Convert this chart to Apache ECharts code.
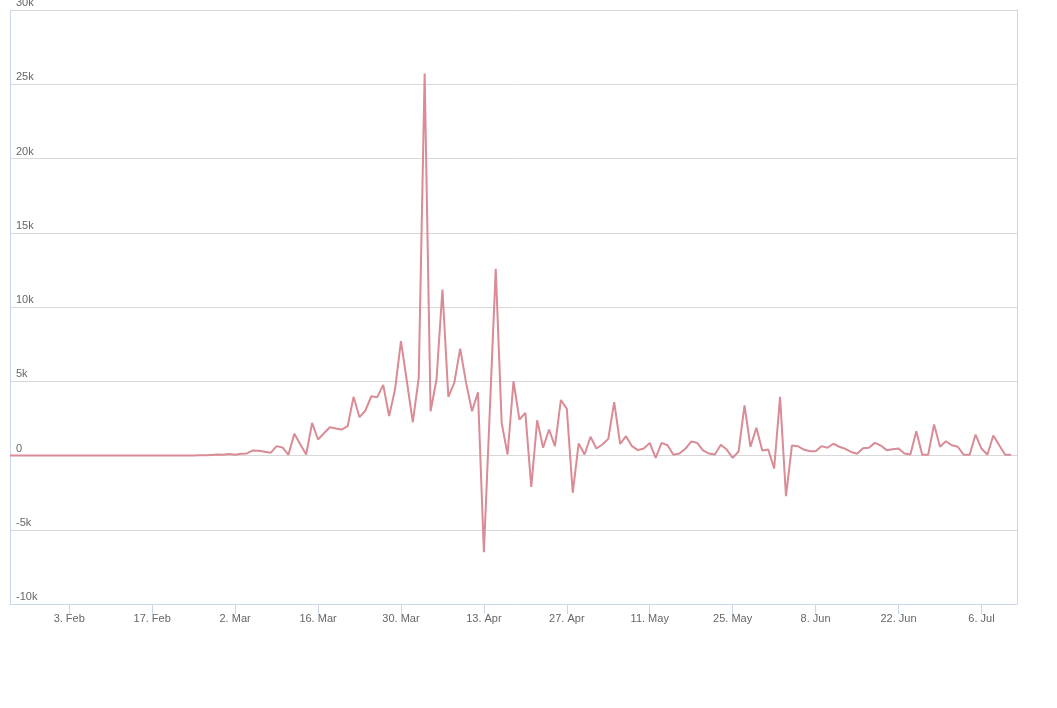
<!DOCTYPE html>
<html>
<head>
<meta charset="utf-8">
<script src="https://cdn.jsdelivr.net/npm/echarts@6/dist/echarts.min.js"></script>
<style>
html,body{margin:0;padding:0;background:#fff;}
#chart{width:1057px;height:708px;}
</style>
</head>
<body>
<div id="chart"></div>
<script>
// Daily values, starting 24 Jan 2020, one per day through 11 Jul 2020
const startDate = [2020, 0, 24];
const extraDays = 1; // axis runs one day beyond the last point
const monthNames = ['Jan','Feb','Mar','Apr','May','Jun','Jul','Aug','Sep','Oct','Nov','Dec'];

const janValues = [0,0,0,0,0,0,0,0];
const febValues = [0,0,0,0,0,0,0,0,0,0, 0,0,0,0,0,0,0,0,0,0, 0,0,0,0,10,20,40,60,50];
const marValues = [100,50,120,140,340,320,250,180,630,540,
                   50,1460,760,70,2200,1080,1500,1900,1820,1750,
                   1970,3950,2580,3030,3990,3930,4760,2650,4440,7700,5000];
const aprValues = [2240,5230,25720,2980,5100,11180,3950,4890,7200,4890,
                   2980,4260,-6510,3030,12570,2200,70,5000,2420,2870,
                   -2110,2380,520,1750,630,3740,3140,-2510,810,70];
const mayValues = [1260,470,740,1120,3590,790,1300,630,360,470,
                   850,-160,850,690,50,130,450,940,850,340,
                   130,70,720,400,-160,270,3370,590,1870,340,400];
const junValues = [-880,3950,-2740,670,630,400,290,290,630,520,
                   790,590,450,240,120,490,520,850,670,360,
                   420,470,130,70,1640,50,50,2090,590,960];
const julValues = [690,590,50,50,1410,470,50,1350,690,50,50];

const yTicks = { min: -10000, max: 30000, interval: 5000 };
const firstLabelIndex = 10; // 3. Feb
const labelStep = 14;

const values = [].concat(janValues, febValues, marValues, aprValues, mayValues, junValues, julValues);
const categories = [];
for (let i = 0; i < values.length + extraDays; i++) {
  const d = new Date(Date.UTC(startDate[0], startDate[1], startDate[2] + i));
  categories.push(d.getUTCDate() + '. ' + monthNames[d.getUTCMonth()]);
}
const showIdx = (i) => i >= firstLabelIndex && (i - firstLabelIndex) % labelStep === 0;

const chart = echarts.init(document.getElementById('chart'), null, {renderer: 'canvas'});
const axisColor = '#ccd6eb';
const textStyle = { color: '#666666', fontSize: 11, fontFamily: '"Liberation Sans", Arial, sans-serif' };
chart.setOption({
  animation: false,
  backgroundColor: '#ffffff',
  grid: { left: 10, right: 40, top: 10, bottom: 104, containLabel: false, outerBoundsMode: 'none' },
  xAxis: {
    type: 'category',
    data: categories,
    boundaryGap: false,
    axisLine: { show: true, onZero: false, lineStyle: { color: axisColor, width: 1 } },
    axisTick: { show: true, interval: (i) => showIdx(i), length: 10, lineStyle: { color: axisColor } },
    axisLabel: Object.assign({ interval: (i) => showIdx(i), margin: 9 }, textStyle),
    splitLine: { show: false }
  },
  yAxis: [{
    type: 'value',
    min: yTicks.min, max: yTicks.max, interval: yTicks.interval,
    axisLine: { show: true, lineStyle: { color: axisColor, width: 1 } },
    axisTick: { show: false },
    axisLabel: Object.assign({
      inside: true, margin: 6, verticalAlign: 'bottom', lineHeight: 14, align: 'left',
      formatter: (v) => v === 0 ? '0' : (v / 1000) + 'k'
    }, textStyle),
    splitLine: { show: true, lineStyle: { color: '#d8d8d8', width: 1 } }
  }, {
    type: 'value', position: 'right',
    min: yTicks.min, max: yTicks.max, interval: yTicks.interval,
    axisLine: { show: true, lineStyle: { color: axisColor, width: 1 } },
    axisTick: { show: false }, axisLabel: { show: false }, splitLine: { show: false }
  }],
  series: [{
    type: 'line',
    data: values,
    yAxisIndex: 0,
    symbol: 'none',
    lineStyle: { color: '#d98b96', width: 2 },
    itemStyle: { color: '#d98b96' }
  }]
});
</script>
</body>
</html>
